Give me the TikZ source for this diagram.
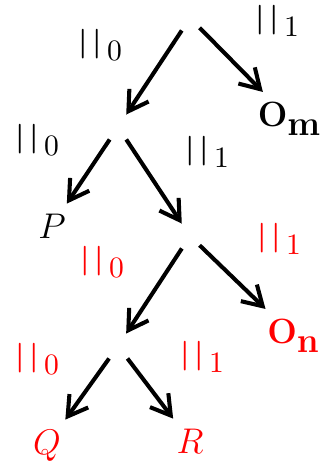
\documentclass[tikz,border=0pt]{standalone}
\usepackage{xcolor}
\usepackage{graphicx}
\usepackage{tikz}
\usepackage{amsmath}
\usetikzlibrary{arrows.meta,positioning}
\newcommand{\barsub}[1]{$\boldsymbol{|}\,\boldsymbol{|}$\,\raisebox{-3.4pt}{$#1$}}

\begin{document}
\begin{tikzpicture}[x=0.013cm,y=-0.013cm,
    hole/.style={minimum width=2.35mm,minimum height=3.1mm,inner sep=0pt},
    leaf/.style={inner sep=3.5pt,font=\large,anchor=base},
    lab/.style={inner sep=0pt,anchor=base west,font=\fontsize{10.5}{12}\selectfont},
    a/.style={-{Straight Barb[length=2.5mm,width=3mm]},line width=1.5pt}]
    \useasboundingbox (0,0) rectangle (322,462);
    % tree skeleton
    \node[hole] (root) at (190,18) {};
    \node[hole] (n1) at (118,127) {};
    \node[hole] (n2) at (190,236) {};
    \node[hole] (n3) at (118,346) {};
    \node[leaf] (om) at (289,126) {\scalebox{1.08}{$\mathbf{O}$\raisebox{-3.1pt}{$\mathbf{m}$}}};
    \node[leaf] (p) at (52,238) {\scalebox{1.1}{$P$}};
    \node[leaf,text=red] (on) at (293,343) {\scalebox{1.08}{$\mathbf{O}$\raisebox{-3.1pt}{$\mathbf{n}$}}};
    \node[leaf,text=red] (q) at (47,454) {\scalebox{1.1}{$Q$}};
    \node[leaf,text=red] (r) at (190,453) {\scalebox{1.1}{$R$}};
    \draw[a] (root)--(n1); \draw[a] (root)--(om);
    \draw[a] (n1)--(p); \draw[a] (n1)--(n2);
    \draw[a] (n2)--(n3); \draw[a] (n2)--(on);
    \draw[a] (n3)--(q); \draw[a] (n3)--(r);
    % edge labels
    \node[lab] (l0a) at (78,51) {\barsub{0}};
    \node[lab] (l1a) at (255,27) {\barsub{1}};
    \node[lab] (l0b) at (15,146) {\barsub{0}};
    \node[lab] (l1b) at (185,158) {\barsub{1}};
    \node[lab,text=red] (l0c) at (80,268) {\barsub{0}};
    \node[lab,text=red] (l1c) at (257,245) {\barsub{1}};
    \node[lab,text=red] (l0d) at (15,365) {\barsub{0}};
    \node[lab,text=red] (l1d) at (180,363) {\barsub{1}};
\end{tikzpicture}
\end{document}
